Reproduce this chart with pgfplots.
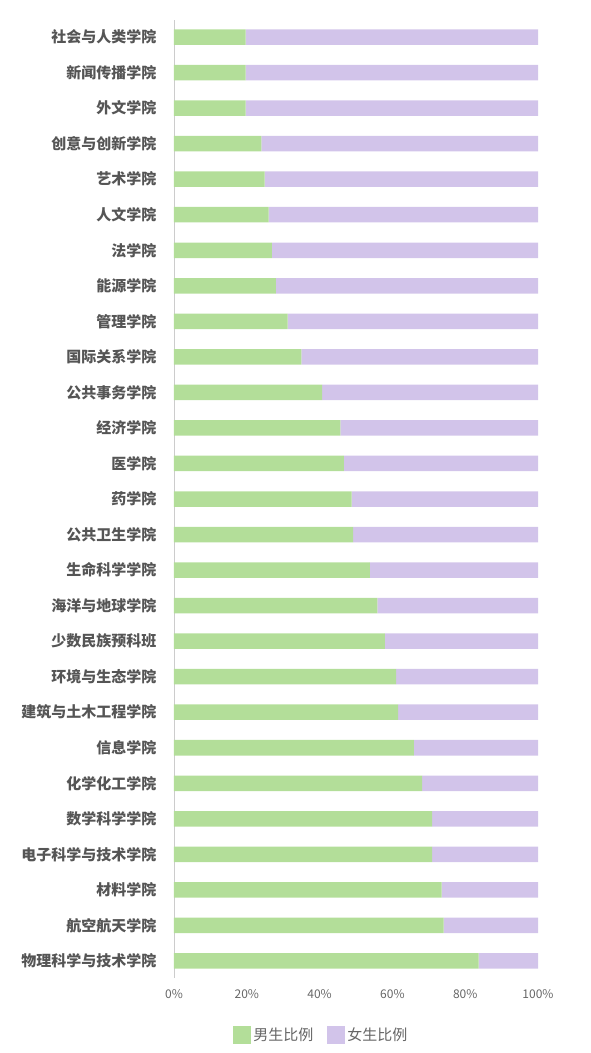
\documentclass[border=0pt]{standalone}
\usepackage{pgfplots}
\pgfplotsset{compat=1.18}
\usepackage{fontspec}
\setmainfont{Noto Sans CJK SC}
\definecolor{male}{HTML}{B3DE99}
\definecolor{female}{HTML}{D2C4EA}
\definecolor{labelgray}{HTML}{555555}
\definecolor{tickgray}{HTML}{666666}
\definecolor{axisgray}{HTML}{CCCCCC}

\begin{document}
\begin{tikzpicture}
\useasboundingbox (-174bp,-75bp) rectangle (417bp,978bp);
\begin{axis}[
  at={(0,0)}, anchor=south west,
  scale only axis,
  width=364bp, height=958bp,
  xbar stacked,
  bar width=15.5bp,
  xmin=0, xmax=100,
  ymin=-0.48, ymax=26.48,
  y dir=reverse,
  ytick={0,...,26},
  yticklabels={社会与人类学院,新闻传播学院,外文学院,创意与创新学院,艺术学院,人文学院,法学院,能源学院,管理学院,国际关系学院,公共事务学院,经济学院,医学院,药学院,公共卫生学院,生命科学学院,海洋与地球学院,少数民族预科班,环境与生态学院,建筑与土木工程学院,信息学院,化学化工学院,数学科学学院,电子科学与技术学院,材料学院,航空航天学院,物理科学与技术学院},
  yticklabel style={font=\fontsize{15bp}{16bp}\selectfont\bfseries, text=labelgray, xshift=-14bp},
  xtick={0,20,40,60,80,100},
  xticklabel={\pgfmathprintnumber{\tick}\%},
  xticklabel style={font=\fontsize{12bp}{13bp}\selectfont, text=tickgray, yshift=-8bp},
  /pgf/number format/assume math mode=true,
  major tick length=0,
  axis lines=left,
  axis line style={-},
  y axis line style={axisgray, line width=0.8bp},
  x axis line style={draw=none},
  legend style={at={(0.405,-0.0595)}, anchor=center, draw=none, legend columns=2,
    font=\fontsize{15bp}{16bp}\selectfont, text=tickgray,
    /tikz/every even column/.append style={column sep=12bp}},
  legend cell align=left,
]
\addplot[fill=male, draw=none, legend image code/.code={\fill[male] (0bp,-9bp) rectangle (18bp,9bp);}] coordinates {
(19.7,0) (19.7,1) (19.7,2) (24.0,3) (24.9,4) (26.0,5) (26.9,6) (28.0,7) (31.2,8)
(35.0,9) (40.7,10) (45.7,11) (46.7,12) (48.8,13) (49.2,14) (53.8,15) (55.9,16) (57.9,17)
(61.0,18) (61.6,19) (65.9,20) (68.2,21) (70.9,22) (70.9,23) (73.5,24) (74.1,25) (83.7,26)};
\addplot[fill=female, draw=none, legend image code/.code={\fill[female] (0bp,-9bp) rectangle (18bp,9bp);}] coordinates {
(80.3,0) (80.3,1) (80.3,2) (76.0,3) (75.1,4) (74.0,5) (73.1,6) (72.0,7) (68.8,8)
(65.0,9) (59.3,10) (54.3,11) (53.3,12) (51.2,13) (50.8,14) (46.2,15) (44.1,16) (42.1,17)
(39.0,18) (38.4,19) (34.1,20) (31.8,21) (29.1,22) (29.1,23) (26.5,24) (25.9,25) (16.3,26)};
\legend{男生比例,女生比例}
\end{axis}
\end{tikzpicture}
\end{document}
